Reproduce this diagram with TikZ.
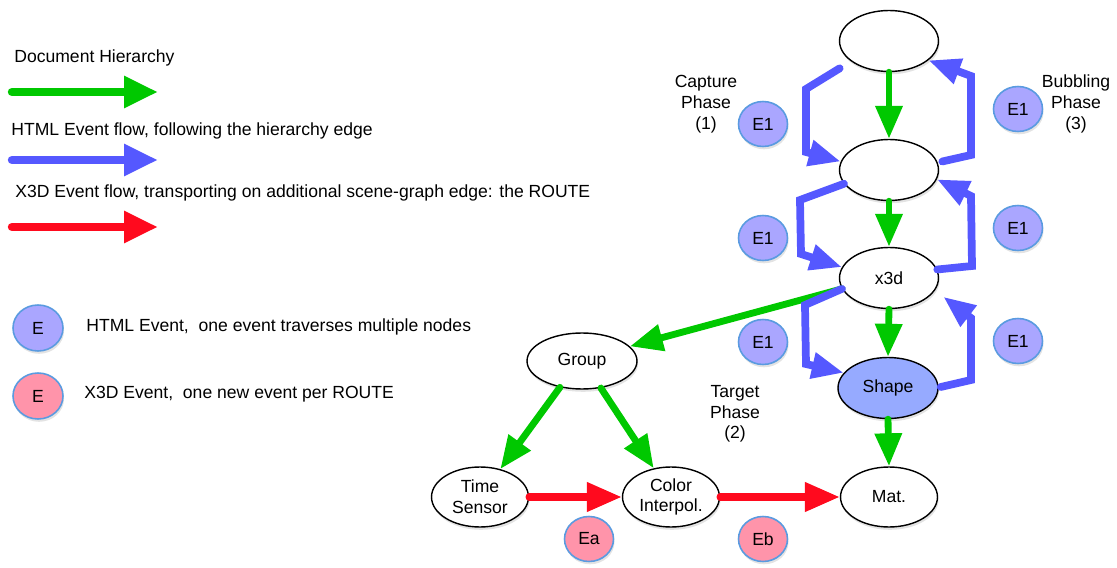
\documentclass[tikz,border=0pt]{standalone}
\usepackage{fontspec}
\setmainfont{Liberation Sans}
\usetikzlibrary{arrows.meta,shadows,shapes.geometric}
\definecolor{hgreen}{HTML}{00C800}
\definecolor{hblue}{HTML}{5558FF}
\definecolor{hred}{HTML}{FF0A1E}
\definecolor{evfill}{HTML}{AAA6FF}
\definecolor{xevfill}{HTML}{FF94AA}
\definecolor{evborder}{HTML}{5A9BE0}
\definecolor{shapefill}{HTML}{96AAFF}
\begin{document}
\begin{tikzpicture}[x=0.02cm,y=-0.02cm,
  every node/.style={font=\fontsize{10}{11.8}\selectfont},
  shad/.style={drop shadow={shadow xshift=0.6pt,shadow yshift=-1.6pt,opacity=0.22}},
  gnode/.style={ellipse,draw=black,line width=0.8pt,fill=white,inner sep=0pt,
    minimum width=1.98cm,minimum height=1.22cm,align=center,shad},
  evnode/.style={ellipse,draw=evborder,line width=0.9pt,fill=evfill,inner sep=0pt,
    minimum width=0.98cm,minimum height=0.9cm,shad},
  xevnode/.style={evnode,fill=xevfill},
  lbl/.style={align=center,inner sep=0pt},
  legtext/.style={anchor=west,inner sep=0pt},
  greenarr/.style={draw=hgreen,line width=3.9pt,line cap=round,
    -{Triangle[length=0.66cm,width=0.52cm]}},
  bluearr/.style={draw=hblue,line width=4.4pt,line cap=round,
    -{Triangle[length=0.64cm,width=0.5cm]}},
  redarr/.style={draw=hred,line width=4.2pt,line cap=round,
    -{Triangle[length=0.7cm,width=0.56cm]}},
  legarr/.style={line width=4.8pt,line cap=round,
    -{Triangle[length=0.68cm,width=0.6cm]}}
]
\useasboundingbox (0,0) rectangle (1117,568);

% ---------- legend ----------
\node[legtext] (t1) at (14,58) {Document Hierarchy};
\node[legtext] (t2) at (11,131) {HTML Event flow, following the hierarchy edge};
\node[legtext] (t3) at (15,193) {X3D Event flow, transporting on additional scene-graph edge: the ROUTE};
\coordinate (lg1s) at (12,92);  \coordinate (lg1e) at (158,92);
\coordinate (lg2s) at (12,160); \coordinate (lg2e) at (158,160);
\coordinate (lg3s) at (12,227); \coordinate (lg3e) at (158,227);
\draw[legarr,draw=hgreen] (lg1s) -- (lg1e);
\draw[legarr,draw=hblue] (lg2s) -- (lg2e);
\draw[legarr,draw=hred] (lg3s) -- (lg3e);

\node[evnode,minimum width=1.0cm,minimum height=0.92cm] (le1) at (38,328) {E};
\node[xevnode,minimum width=1.0cm,minimum height=0.92cm] (le2) at (38,396) {E};
\node[legtext] (t4) at (86,327) {HTML Event,\ \ one event traverses multiple nodes};
\node[legtext] (t5) at (84,394) {X3D Event,\ \ one new event per ROUTE};

% ---------- scene nodes ----------
\node[gnode] (n1) at (889,41) {};
\node[gnode] (n2) at (889,170) {};
\node[gnode] (x3d) at (889,278) {x3d};
\node[gnode,fill=shapefill,minimum width=2.0cm] (shape) at (888,388) {Shape};
\node[gnode,minimum width=1.94cm,minimum height=1.2cm] (mat) at (889,497) {Mat.};
\node[gnode,minimum width=2.2cm,minimum height=1.12cm] (group) at (582,361) {Group};
\node[gnode,minimum width=1.94cm,minimum height=1.2cm] (time) at (480,497) {Time\\Sensor};
\node[gnode,minimum width=1.94cm,minimum height=1.2cm] (color) at (671,497) {Color\\Interpol.};

% ---------- events ----------
\node[evnode] (e1a) at (763,124) {E1};
\node[evnode] (e1b) at (763,238) {E1};
\node[evnode] (e1c) at (763,342) {E1};
\node[evnode] (e1d) at (1018,109) {E1};
\node[evnode] (e1e) at (1018,228) {E1};
\node[evnode] (e1f) at (1018,341) {E1};
\node[xevnode] (ea) at (589,539) {Ea};
\node[xevnode] (eb) at (763,539) {Eb};

% ---------- phase labels ----------
\node[lbl] (cap) at (706,104) {Capture\\Phase\\(1)};
\node[lbl] (bub) at (1076,104) {Bubbling\\Phase\\(3)};
\node[lbl] (tgt) at (735,414) {Target\\Phase\\(2)};

% ---------- hierarchy (green) ----------
\draw[greenarr] (n1.south) -- (n2.north);
\draw[greenarr] (n2.south) -- (x3d.north);
\draw[greenarr] (x3d.south) -- (shape.north);
\draw[greenarr] (shape.south) -- (mat.north);
\draw[greenarr] (x3d.193) -- (group.17);
\draw[greenarr] (group.230) -- (time.54);
\draw[greenarr] (group.305) -- (color.121);

% ---------- routes (red) ----------
\draw[redarr] (time.east) -- (color.west);
\draw[redarr] (color.east) -- (mat.west);

% ---------- HTML event flow (blue) ----------
\draw[bluearr] ([shift={(-16,4)}]n1.215) -- (806,89) -- (806,152) -- (n2.170);
\draw[bluearr] ([shift={(5,0)}]n2.10) -- (971,155) -- (971,76) -- (n1.334);
\draw[bluearr] (n2.197) -- (800,200) -- (801,254) -- (x3d.167);
\draw[bluearr] (x3d.10) -- (972,266) -- (971,196) -- (n2.349);
\draw[bluearr] (x3d.193) -- (805,305) -- (806,364) -- (shape.161);
\draw[bluearr] ([shift={(2,-1)}]shape.east) -- (971,380) -- (971,318) -- ([shift={(11,3)}]x3d.340);
\end{tikzpicture}
\end{document}
